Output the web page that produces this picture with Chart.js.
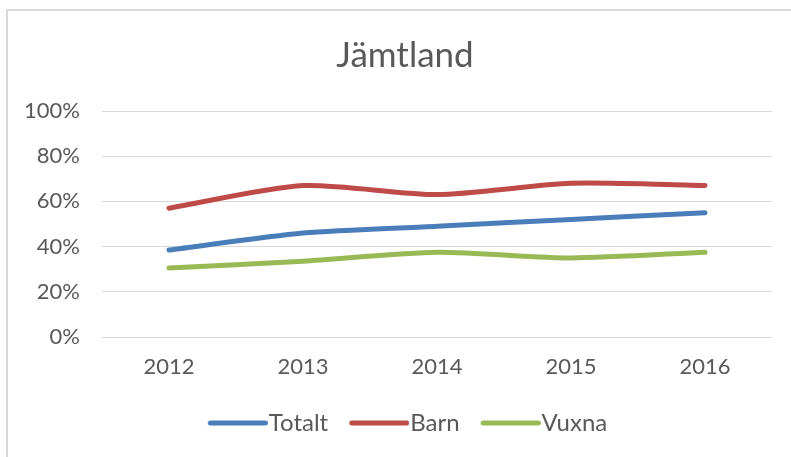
<!DOCTYPE html>
<html>
<head>
<meta charset="utf-8">
<script src="https://cdn.jsdelivr.net/npm/chart.js@4"></script>
<style>
  html, body { margin: 0; padding: 0; background: #ffffff; }
  #wrap { position: relative; width: 791px; height: 457px; overflow: hidden; }
  #frame { position: absolute; left: 6px; top: 9px; width: 900px; height: 600px;
           border-left: 2px solid #d9d9d9; border-top: 2px solid #d9d9d9; }
  #c { position: absolute; left: 0; top: 0; }
</style>
</head>
<body>
<div id="wrap">
  <div id="frame"></div>
  <canvas id="c" width="791" height="457"></canvas>
</div>
<script>
const chartTitle = 'Jämtland';
const years = ['2012', '2013', '2014', '2015', '2016'];
const totalt = [38.5, 46, 49, 52, 55];
const barn = [57, 67, 63, 68, 67];
const vuxna = [30.5, 33.5, 37.5, 35, 37.5];
const seriesNames = ['Totalt', 'Barn', 'Vuxna'];
const seriesColors = ['#4a7ebb', '#be4b48', '#98b954'];

const FONT = 'Lato, "Liberation Sans", sans-serif';
const TEXT = '#595959';

function swatch(color) {
  const c = document.createElement('canvas');
  c.width = 72; c.height = 10;
  const g = c.getContext('2d');
  g.strokeStyle = color; g.lineWidth = 5; g.lineCap = 'round';
  g.beginPath(); g.moveTo(14.5, 5); g.lineTo(69.5, 5); g.stroke();
  return c;
}
const swatches = seriesColors.map(swatch);

const shiftBoxes = {
  id: 'shiftBoxes',
  afterLayout(chart) {
    const lg = chart.legend;
    if (lg) { lg.left += 21; lg.right += 21; }
    const tb = chart.titleBlock;
    if (tb) { tb.left += 19; tb.right += 19; }
  }
};

const seriesData = [totalt, barn, vuxna];
new Chart(document.getElementById('c'), {
  type: 'line',
  data: {
    labels: years,
    datasets: seriesNames.map((name, i) => ({
      label: name,
      data: seriesData[i],
      borderColor: seriesColors[i],
      backgroundColor: seriesColors[i],
      borderWidth: 5,
      borderCapStyle: 'round',
      borderJoinStyle: 'round',
      pointRadius: 0,
      pointHoverRadius: 0,
      tension: 0.25,
      fill: false
    }))
  },
  plugins: [shiftBoxes],
  options: {
    responsive: false,
    animation: false,
    devicePixelRatio: 1,
    layout: { padding: { left: 0, right: 19, top: 0, bottom: 12 } },
    plugins: {
      tooltip: { enabled: false },
      title: {
        display: true,
        text: chartTitle,
        color: TEXT,
        font: { family: FONT, size: 35, weight: 'normal' },
        padding: { top: 35, bottom: 34 }
      },
      legend: {
        display: true,
        position: 'bottom',
        labels: {
          color: TEXT,
          font: { family: FONT, size: 24 },
          usePointStyle: true,
          pointStyleWidth: 50,
          padding: 20,
          generateLabels: (chart) =>
            Chart.defaults.plugins.legend.labels.generateLabels(chart).map(it => {
              it.pointStyle = swatches[it.datasetIndex];
              return it;
            })
        }
      }
    },
    scales: {
      x: {
        offset: true,
        grid: { display: false, drawTicks: false },
        border: { display: false },
        ticks: { color: TEXT, font: { family: FONT, size: 22 }, padding: 17, maxRotation: 0 },
        afterFit: (axis) => { axis.height = 54; }
      },
      y: {
        min: 0, max: 100,
        grid: { color: '#d9d9d9', lineWidth: 1, drawTicks: false },
        border: { display: false },
        ticks: {
          stepSize: 20,
          color: TEXT,
          font: { family: FONT, size: 22 },
          padding: 22,
          callback: (v) => v + '%'
        },
        afterFit: (axis) => { axis.width = 102; }
      }
    }
  }
});
</script>
</body>
</html>
